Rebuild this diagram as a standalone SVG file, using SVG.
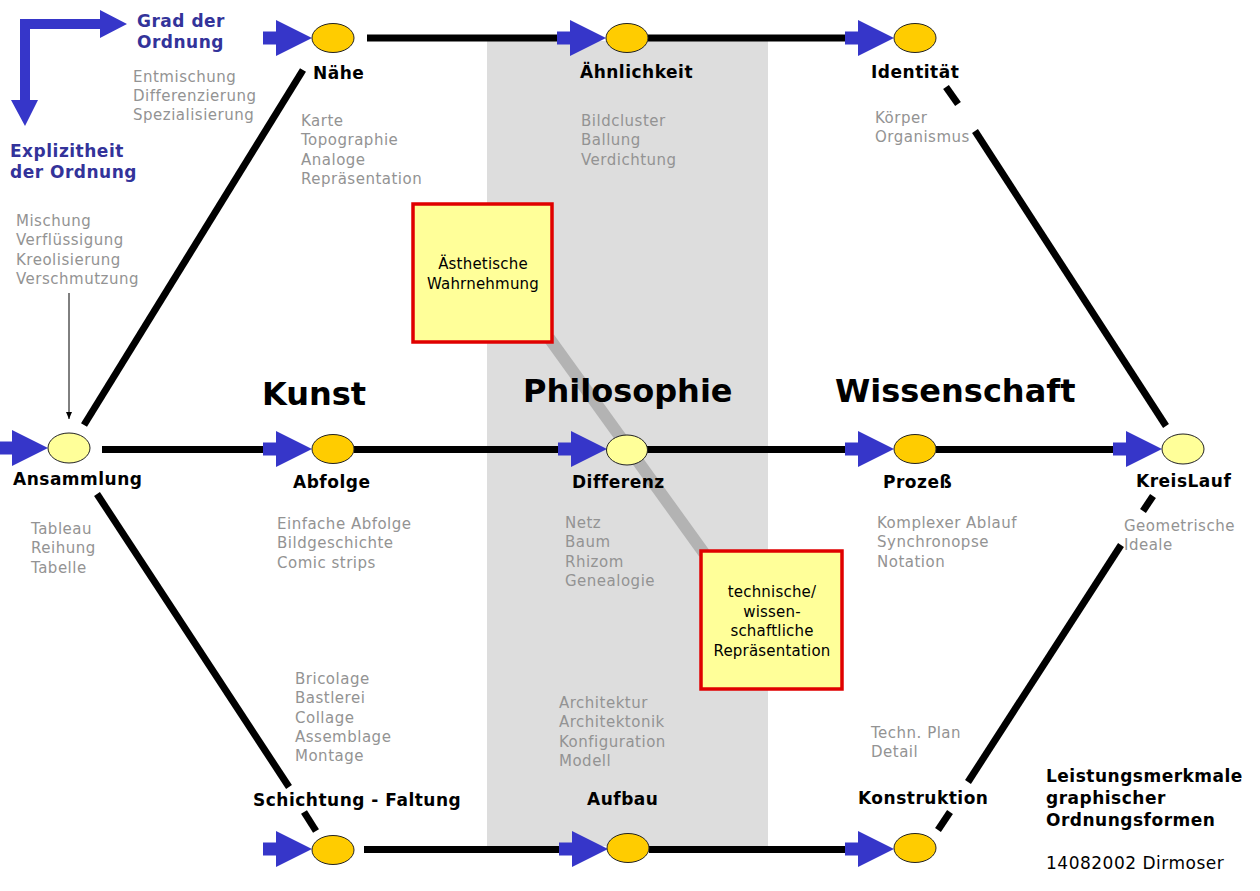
<svg xmlns="http://www.w3.org/2000/svg" xmlns:xlink="http://www.w3.org/1999/xlink" width="1260" height="891" viewBox="0 0 1260 891">
<style>
text{font-family:"DejaVu Sans",Verdana,sans-serif}
.g{font-size:15px;fill:#939393;letter-spacing:0.5px}
.b{font-size:17px;font-weight:bold;fill:#000;letter-spacing:0.5px}
.big{font-size:32px;font-weight:bold;fill:#000}
.bl{font-size:17px;font-weight:bold;fill:#33339a;letter-spacing:0.5px}
.bx{font-size:15px;fill:#000;letter-spacing:0.2px;text-anchor:middle}
.ln{stroke:#000;stroke-width:7;fill:none}
.o{fill:#ffcc00;stroke:#222;stroke-width:1}
.y{fill:#ffff99;stroke:#222;stroke-width:1}
.box{fill:#ffff99;stroke:#e00000;stroke-width:3.5}
.arr{fill:#3636c9}
</style>
<defs>
<path id="arr" class="arr" d="M-49,-6.5 H-36 V-18 L0,0 L-36,18 V6.5 H-49 Z"/>
<marker id="thin" markerWidth="8" markerHeight="8" refX="7" refY="4" orient="auto" markerUnits="userSpaceOnUse">
<path d="M0,1 L7,4 L0,7 Z" fill="#000"/>
</marker>
</defs>
<rect width="1260" height="891" fill="#fff"/>
<rect id="band" x="487" y="41" width="281" height="805" fill="#dddddd"/>

<g id="legend">
<path fill="#3636c9" d="M20,19 H100 V10 L127,24 L100,38 V29 H30 V100 H38 L25,126 L11,100 H20 Z"/>
<text class="bl" x="137" y="27">Grad der</text>
<text class="bl" x="137" y="48">Ordnung</text>
<text class="bl" x="10" y="157">Explizitheit</text>
<text class="bl" x="10" y="178">der Ordnung</text>
</g>

<g id="connectors">
<line class="ln" x1="367" y1="38" x2="557" y2="38"/>
<line class="ln" x1="648" y1="38" x2="846" y2="38"/>
<line class="ln" x1="102" y1="449.5" x2="265" y2="449.5"/>
<line class="ln" x1="354" y1="449.5" x2="559" y2="449.5"/>
<line class="ln" x1="647" y1="449.5" x2="846" y2="449.5"/>
<line class="ln" x1="936" y1="449.5" x2="1114" y2="449.5"/>
<line class="ln" x1="364" y1="849.5" x2="559" y2="849.5"/>
<line class="ln" x1="649" y1="849.5" x2="846" y2="849.5"/>
<line class="ln" x1="84" y1="425" x2="303" y2="70"/>
<line class="ln" x1="97" y1="494" x2="289" y2="787"/>
<line class="ln" x1="304" y1="812" x2="316" y2="831"/>
<line class="ln" x1="946" y1="87" x2="958" y2="104"/>
<line class="ln" x1="975" y1="131" x2="1166" y2="426"/>
<line class="ln" x1="1153" y1="496" x2="1143" y2="511"/>
<line class="ln" x1="1121" y1="545" x2="968" y2="782"/>
<line class="ln" x1="950" y1="812" x2="938" y2="830"/>
<line x1="69" y1="293" x2="69" y2="419" stroke="#000" stroke-width="1" marker-end="url(#thin)"/>
<line x1="549" y1="338" x2="704" y2="553" stroke="#b3b3b3" stroke-width="12"/>
<use xlink:href="#arr" x="312" y="38"/>
<use xlink:href="#arr" x="606" y="38"/>
<use xlink:href="#arr" x="894" y="38"/>
<use xlink:href="#arr" x="48" y="448"/>
<use xlink:href="#arr" x="312" y="449"/>
<use xlink:href="#arr" x="607" y="449"/>
<use xlink:href="#arr" x="894" y="449"/>
<use xlink:href="#arr" x="1162" y="449"/>
<use xlink:href="#arr" x="312" y="849"/>
<use xlink:href="#arr" x="608" y="849"/>
<use xlink:href="#arr" x="894" y="849"/>
</g>

<g id="titles">
<text class="big" x="262" y="405">Kunst</text>
<text class="big" x="523" y="402">Philosophie</text>
<text class="big" x="835" y="402">Wissenschaft</text>
</g>

<g id="naehe">
<ellipse class="o" cx="333" cy="38" rx="21" ry="14.5"/>
<text class="b" x="313" y="79">Nähe</text>
<text class="g" x="301" y="126"><tspan x="301">Karte</tspan><tspan x="301" dy="19.3">Topographie</tspan><tspan x="301" dy="19.3">Analoge</tspan><tspan x="301" dy="19.3">Repräsentation</tspan></text>
</g>
<g id="aehnlichkeit">
<ellipse class="o" cx="627" cy="38" rx="21" ry="14.5"/>
<text class="b" x="580" y="78">Ähnlichkeit</text>
<text class="g" x="581" y="126"><tspan x="581">Bildcluster</tspan><tspan x="581" dy="19.3">Ballung</tspan><tspan x="581" dy="19.3">Verdichtung</tspan></text>
</g>
<g id="identitaet">
<ellipse class="o" cx="915" cy="38" rx="21" ry="14.5"/>
<text class="b" x="871" y="78">Identität</text>
<text class="g" x="875" y="123"><tspan x="875">Körper</tspan><tspan x="875" dy="19.3">Organismus</tspan></text>
</g>
<g id="entmischung">
<text class="g" x="133" y="82"><tspan x="133">Entmischung</tspan><tspan x="133" dy="19">Differenzierung</tspan><tspan x="133" dy="19">Spezialisierung</tspan></text>
</g>
<g id="mischung">
<text class="g" x="16" y="226"><tspan x="16">Mischung</tspan><tspan x="16" dy="19.3">Verflüssigung</tspan><tspan x="16" dy="19.3">Kreolisierung</tspan><tspan x="16" dy="19.3">Verschmutzung</tspan></text>
</g>
<g id="ansammlung">
<ellipse class="y" cx="69" cy="448" rx="21" ry="15"/>
<text class="b" x="13" y="485">Ansammlung</text>
<text class="g" x="31" y="534"><tspan x="31">Tableau</tspan><tspan x="31" dy="19.3">Reihung</tspan><tspan x="31" dy="19.3">Tabelle</tspan></text>
</g>
<g id="abfolge">
<ellipse class="o" cx="333" cy="449" rx="21" ry="14.5"/>
<text class="b" x="293" y="488">Abfolge</text>
<text class="g" x="277" y="529"><tspan x="277">Einfache Abfolge</tspan><tspan x="277" dy="19.3">Bildgeschichte</tspan><tspan x="277" dy="19.3">Comic strips</tspan></text>
</g>
<g id="differenz">
<ellipse class="y" cx="627" cy="450" rx="20.5" ry="15"/>
<text class="b" x="572" y="488">Differenz</text>
<text class="g" x="565" y="528"><tspan x="565">Netz</tspan><tspan x="565" dy="19.3">Baum</tspan><tspan x="565" dy="19.3">Rhizom</tspan><tspan x="565" dy="19.3">Genealogie</tspan></text>
</g>
<g id="prozess">
<ellipse class="o" cx="915" cy="449" rx="21" ry="14.5"/>
<text class="b" x="883" y="488">Prozeß</text>
<text class="g" x="877" y="528"><tspan x="877">Komplexer Ablauf</tspan><tspan x="877" dy="19.3">Synchronopse</tspan><tspan x="877" dy="19.3">Notation</tspan></text>
</g>
<g id="kreislauf">
<ellipse class="y" cx="1183" cy="449" rx="21" ry="15"/>
<text class="b" x="1136" y="487">KreisLauf</text>
<text class="g" x="1124" y="531"><tspan x="1124">Geometrische</tspan><tspan x="1124" dy="19.3">Ideale</tspan></text>
</g>
<g id="schichtung">
<ellipse class="o" cx="333" cy="850" rx="21" ry="14.5"/>
<text class="b" x="253" y="806">Schichtung - Faltung</text>
<text class="g" x="295" y="684"><tspan x="295">Bricolage</tspan><tspan x="295" dy="19.3">Bastlerei</tspan><tspan x="295" dy="19.3">Collage</tspan><tspan x="295" dy="19.3">Assemblage</tspan><tspan x="295" dy="19.3">Montage</tspan></text>
</g>
<g id="aufbau">
<ellipse class="o" cx="628" cy="848" rx="21" ry="14.5"/>
<text class="b" x="587" y="805">Aufbau</text>
<text class="g" x="559" y="708"><tspan x="559">Architektur</tspan><tspan x="559" dy="19.3">Architektonik</tspan><tspan x="559" dy="19.3">Konfiguration</tspan><tspan x="559" dy="19.3">Modell</tspan></text>
</g>
<g id="konstruktion">
<ellipse class="o" cx="915" cy="848" rx="21" ry="14.5"/>
<text class="b" x="858" y="804">Konstruktion</text>
<text class="g" x="871" y="738"><tspan x="871">Techn. Plan</tspan><tspan x="871" dy="19.3">Detail</tspan></text>
</g>
<g id="aesthetische">
<rect class="box" x="413" y="204" width="139" height="138"/>
<text class="bx" x="483" y="269">Ästhetische</text>
<text class="bx" x="483" y="289">Wahrnehmung</text>
</g>
<g id="technische">
<rect class="box" x="701" y="551" width="141" height="138"/>
<text class="bx" x="772" y="597">technische/</text>
<text class="bx" x="772" y="617">wissen-</text>
<text class="bx" x="772" y="636">schaftliche</text>
<text class="bx" x="772" y="656">Repräsentation</text>
</g>
<g id="caption">
<text class="b" x="1046" y="782">Leistungsmerkmale</text>
<text class="b" x="1046" y="804">graphischer</text>
<text class="b" x="1046" y="826">Ordnungsformen</text>
<text x="1046" y="869" style="font-size:17px;fill:#000;letter-spacing:0.5px">14082002 Dirmoser</text>
</g>
</svg>
